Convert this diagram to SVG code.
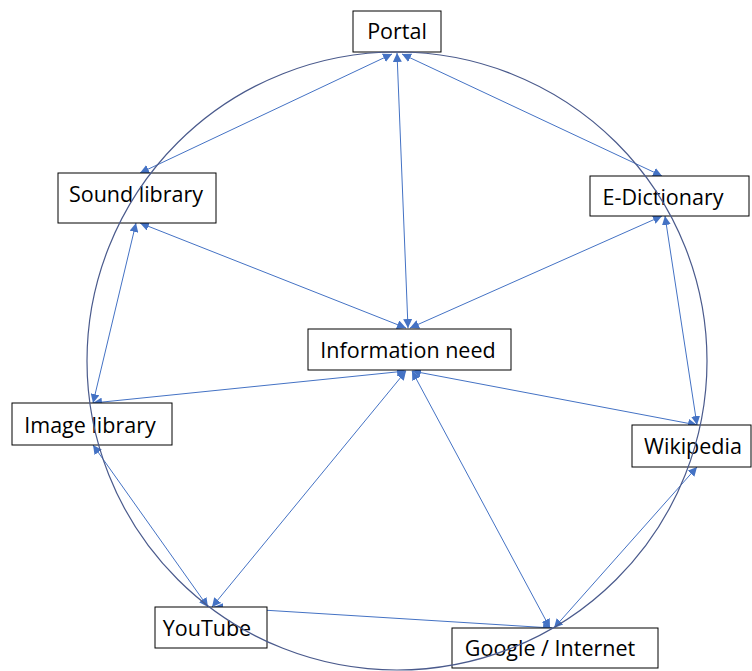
<svg xmlns="http://www.w3.org/2000/svg" width="752" height="671" viewBox="0 0 752 671">
<defs>
<marker id="ah" viewBox="0 0 10 10" refX="10" refY="5" markerWidth="9" markerHeight="9" markerUnits="userSpaceOnUse" orient="auto-start-reverse">
<path d="M0,0 L10,5 L0,10 z" fill="#4472C4"/>
</marker>
<style>
.box{fill:#fff;stroke:#000;stroke-width:1}
.lbl{font-family:"Open Sans","Liberation Sans",sans-serif;font-size:21.5px;fill:#000;text-anchor:middle}
.c{stroke:#4472C4;stroke-width:1;fill:none;marker-start:url(#ah);marker-end:url(#ah)}
.ring{stroke:#4a5a8c;stroke-width:1.2;fill:none}
</style>
</defs>
<g id="connectors">
<line class="c" x1="397" y1="53" x2="408" y2="328"/>
<line class="c" x1="392" y1="54" x2="140" y2="173"/>
<line class="c" x1="402" y1="54" x2="662" y2="176"/>
<line class="c" x1="140" y1="223" x2="406" y2="328"/>
<line class="c" x1="662" y1="216" x2="410" y2="328"/>
<line class="c" x1="136" y1="223" x2="93" y2="403"/>
<line class="c" x1="665" y1="216" x2="697" y2="425"/>
<line class="c" x1="406" y1="371" x2="93" y2="403"/>
<line class="c" x1="412" y1="371" x2="697" y2="425"/>
<line class="c" x1="406" y1="371" x2="212" y2="607"/>
<line class="c" x1="412" y1="371" x2="550" y2="628"/>
<line class="c" x1="93" y1="445" x2="208" y2="607"/>
<line class="c" x1="214" y1="607" x2="552" y2="628"/>
<line class="c" x1="697" y1="467" x2="554" y2="628"/>
</g>
<g id="nodes">
<g id="portal"><rect class="box" x="353" y="11" width="88" height="41"/><text class="lbl" x="397" y="39">Portal</text></g>
<g id="sound-library"><rect class="box" x="58" y="173" width="158" height="50"/><text class="lbl" x="136" y="202">Sound library</text></g>
<g id="e-dictionary"><rect class="box" x="590" y="176" width="159" height="40"/><text class="lbl" x="663" y="205">E-Dictionary</text></g>
<g id="information-need"><rect class="box" x="308" y="329" width="203" height="41"/><text class="lbl" x="408" y="358">Information need</text></g>
<g id="image-library"><rect class="box" x="12" y="403" width="160" height="42"/><text class="lbl" x="90" y="433">Image library</text></g>
<g id="wikipedia"><rect class="box" x="632" y="425" width="119" height="42"/><text class="lbl" x="693" y="454">Wikipedia</text></g>
<g id="youtube"><rect class="box" x="155" y="607" width="112" height="41"/><text class="lbl" x="207" y="636">YouTube</text></g>
<g id="google-internet"><rect class="box" x="452" y="628" width="206" height="40"/><text class="lbl" x="550" y="656">Google / Internet</text></g>
</g>
<g id="ring-overlay">
<ellipse class="ring" cx="397" cy="361" rx="310" ry="309"/>
</g>
</svg>
